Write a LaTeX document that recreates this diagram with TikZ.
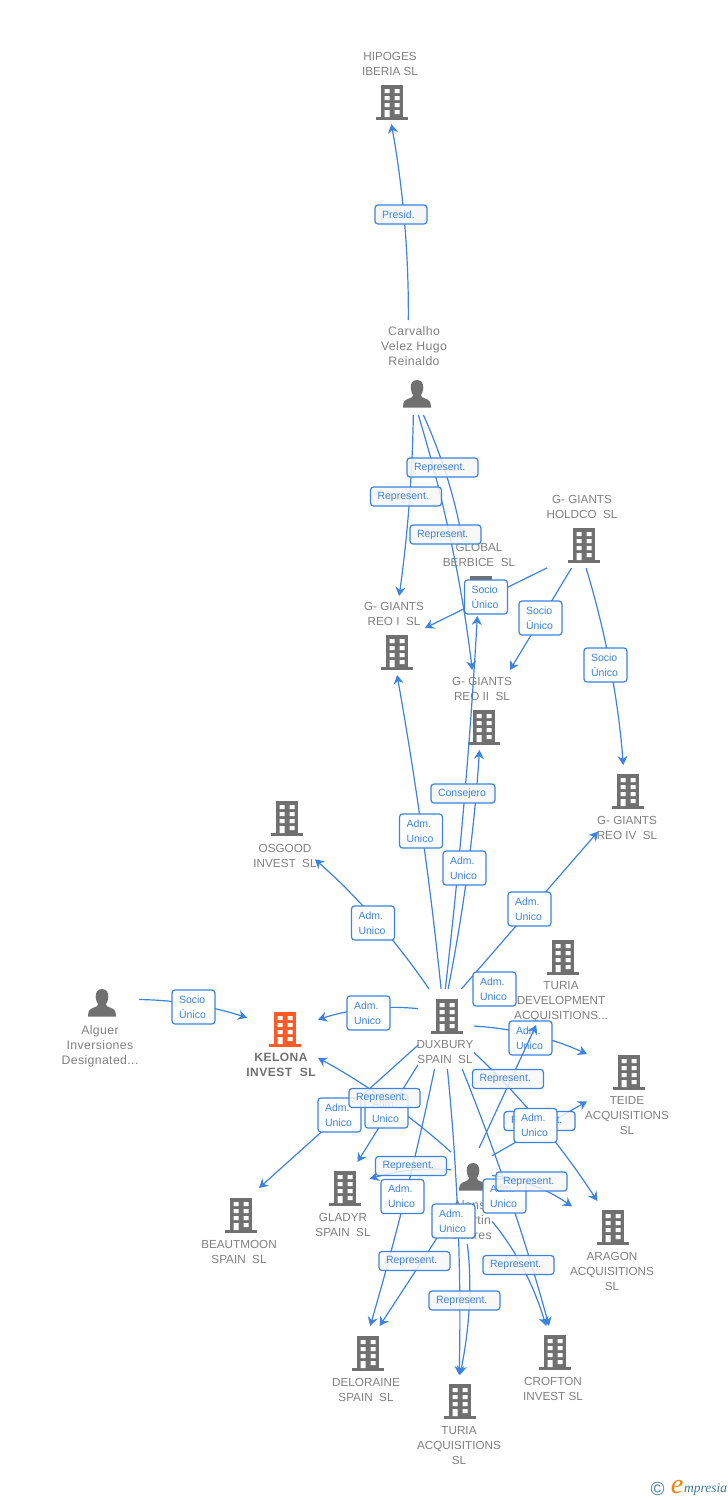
\documentclass[tikz,border=0pt]{standalone}
\usepackage{fontspec}
\setmainfont{Liberation Sans}
\newfontfamily\wmfont{Liberation Serif}
\usetikzlibrary{arrows.meta,calc}
\definecolor{linkblue}{HTML}{3C82E0}
\definecolor{icongray}{HTML}{707070}
\definecolor{namegray}{HTML}{808080}
\definecolor{kelonaorange}{HTML}{FF5A26}
\definecolor{wmblue}{HTML}{3F7C96}
\newcommand{\arcLink}[3]{\draw[tip] (#1) .. controls ($(#2)+0.1667*(#1)-0.1667*(#3)$) and ($(#2)-0.1667*(#1)+0.1667*(#3)$) .. (#3);}
\tikzset{
  x=1pt,y=-1pt,
  hit/.style={rectangle,inner sep=0pt,outer sep=0pt,minimum width=#1},
  name label/.style={inner sep=0pt,align=center,text=namegray,font=\fontsize{11.7}{15}\selectfont},
  person label/.style={inner sep=0pt,align=center,text=namegray,font=\fontsize{12.3}{15}\selectfont\addfontfeatures{LetterSpace=3}},
  main label/.style={inner sep=0pt,align=center,text=icongray,font=\fontsize{12}{15}\selectfont\bfseries\addfontfeatures{LetterSpace=4}},
  conn/.style={draw=linkblue,line width=1.2pt},
  tip/.style={conn,-{Stealth[length=9pt,width=10pt,inset=3pt]}},
  lbox/.style={rectangle,rounded corners=3pt,draw=linkblue,line width=1.2pt,fill=white,text=linkblue,
    align=left,inner xsep=7pt,inner ysep=2pt,font=\fontsize{10.5}{15}\selectfont},
  duo/.style={lbox,text width=29pt,minimum height=34pt},
  rep/.style={lbox,fill=black!3!white,fill opacity=.85,text opacity=1,text width=57pt,minimum height=19pt},
  oneline/.style={lbox,fill=black!3!white,minimum height=19pt},
  building/.pic={
    \fill[pic actions] (-11,-17) rectangle (11,15);
    \fill[pic actions] (-16,15) rectangle (16,18);
    \fill[white] (-7.3,-13) rectangle (-2.3,-9) (2.7,-13) rectangle (7.7,-9)
      (-7.3,-6) rectangle (-2.3,-2) (2.7,-6) rectangle (7.7,-2)
      (-7.3,1) rectangle (-2.3,5) (2.7,1) rectangle (7.7,5)
      (-7.3,8) rectangle (-2.3,15) (2.7,8) rectangle (7.7,12);
  },
  person/.pic={
    \fill[pic actions] (0,-14) .. controls (-5,-14) and (-6.5,-10) .. (-6.3,-6)
      .. controls (-6.2,-3) and (-5,-0.5) .. (-4,1) .. controls (-4,3) and (-5,3.5) .. (-8,4.5)
      .. controls (-12,6) and (-14,7) .. (-14,13.5) -- (14,13.5)
      .. controls (14,7) and (12,6) .. (8,4.5) .. controls (5,3.5) and (4,3) .. (4,1)
      .. controls (5,-0.5) and (6.2,-3) .. (6.3,-6) .. controls (6.5,-10) and (5,-14) .. (0,-14) -- cycle;
  },
}
\begin{document}
\begin{tikzpicture}
\useasboundingbox (0,0) rectangle (728,1500);
% entity areas (icon plus name): connectors end on their borders
\node[hit=60pt,minimum height=72pt] (hipoges) at (392,88) {};
\node[hit=70pt,minimum height=95pt] (carvalho) at (415,367.5) {};
\node[hit=60pt,minimum height=79pt] (reoa) at (395,635.5) {};
\node[hit=56pt,minimum height=80pt] (reob) at (483,710) {};
\node[hit=70pt,minimum height=76pt] (berbice) at (480,578) {};
\node[hit=70pt,minimum height=78pt] (holdco) at (582,529) {};
\node[hit=59pt,minimum height=80pt] (reod) at (627.5,805) {};
\node[hit=60pt,minimum height=70pt] (osgood) at (285,835) {};
\node[hit=94pt,minimum height=86pt] (turiadev) at (562,982) {};
\node[hit=83pt,minimum height=86pt] (teide) at (628.5,1097) {};
\node[hit=83pt,minimum height=94pt] (aragon) at (613.5,1248) {};
\node[hit=65pt,minimum height=79pt] (crofton) at (552.5,1365.5) {};
\node[hit=84pt,minimum height=95pt] (turiaacq) at (460,1422.5) {};
\node[hit=68pt,minimum height=79pt] (deloraine) at (366,1365.5) {};
\node[hit=55pt,minimum height=78pt] (gladyr) at (342.5,1201) {};
\node[hit=71pt,minimum height=80pt] (beautmoon) at (239.5,1228) {};
\node[hit=71pt,minimum height=77pt] (kelona) at (282.5,1043.5) {};
\node[hit=77pt,minimum height=85pt] (alguer) at (100.5,1027.5) {};
\node[hit=56pt,minimum height=80pt] (duxbury) at (446,1029) {};
\node[hit=41pt,minimum height=96pt] (alonso) at (471.5,1196) {};
% icons
\pic[fill=icongray] at (392,102) {building};
\pic[fill=icongray] at (584,545) {building};
\pic[fill=icongray] at (481,593) {building};
\pic[fill=icongray] at (397,652) {building};
\pic[fill=icongray] at (484,727) {building};
\pic[fill=icongray] at (287,818) {building};
\pic[fill=icongray] at (628,791) {building};
\pic[fill=icongray] at (563,957) {building};
\pic[fill=icongray] at (447,1016) {building};
\pic[fill=icongray] at (629,1072) {building};
\pic[fill=icongray] at (613,1227) {building};
\pic[fill=icongray] at (555,1352) {building};
\pic[fill=icongray] at (460,1401) {building};
\pic[fill=icongray] at (368,1353) {building};
\pic[fill=icongray] at (345,1188) {building};
\pic[fill=icongray] at (241,1215) {building};
\pic[fill=kelonaorange] at (285,1029) {building};
\pic[fill=icongray] at (417,394) {person};
\pic[fill=icongray] at (102,1003) {person};
\pic[fill=icongray] at (473,1177) {person};
% names
\node[name label] (hipogesN) at (390,63.5) {HIPOGES\\IBERIA SL};
\node[person label] (carvalhoN) at (414,346) {Carvalho\\Velez Hugo\\Reinaldo};
\node[name label] (holdcoN) at (582,506.5) {G- GIANTS\\HOLDCO\ \ SL};
\node[name label] (berbiceN) at (479,555) {GLOBAL\\BERBICE\ \ SL};
\node[name label] (reoaN) at (394,613.5) {G- GIANTS\\REO I\ \ SL};
\node[name label] (reobN) at (482,689) {G- GIANTS\\REO II\ \ SL};
\node[name label] (osgoodN) at (285,855.5) {OSGOOD\\INVEST\ \ SL};
\node[name label] (reodN) at (627,827.5) {G- GIANTS\\REO IV\ \ SL};
\node[name label] (turiadevN) at (561,1002) {TURIA\\DEVELOPMENT\\ACQUISITIONS...};
\node[person label] (alguerN) at (100,1046) {Alguer\\Inversiones\\Designated...};
\node[main label] (kelonaN) at (281,1064.5) {KELONA\\INVEST\ \ SL};
\node[name label] (duxburyN) at (445,1052.5) {DUXBURY\\SPAIN\ \ SL};
\node[name label] (teideN) at (627,1116) {TEIDE\\ACQUISITIONS\\SL};
\node[name label] (aragonN) at (612,1271) {ARAGON\\ACQUISITIONS\\SL};
\node[name label] (gladyrN) at (343,1224.5) {GLADYR\\SPAIN\ \ SL};
\node[name label] (beautmoonN) at (239,1251.5) {BEAUTMOON\\SPAIN\ \ SL};
\node[person label] (alonsoN) at (473,1220.5) {Alonso\\Martin\\Antres};
\node[name label] (deloraineN) at (366,1389.5) {DELORAINE\\SPAIN\ \ SL};
\node[name label] (croftonN) at (553,1388.5) {CROFTON\\INVEST SL};
\node[name label] (turiaacqN) at (459,1446) {TURIA\\ACQUISITIONS\\SL};
% connectors
\arcLink{carvalho.98.4}{406,222}{hipoges.-91.6}
\arcLink{carvalho.-92.4}{410,505}{reoa.84.2}
\arcLink{carvalho.-86.4}{453,542}{reob.105.4}
\arcLink{carvalho.-80.5}{448,476}{berbice.115.3}
\draw[tip] (holdco.-132.6) -- (reoa.14);
\draw[tip] (holdco.-105.8) -- (reob.56);
\arcLink{holdco.-84.1}{612,666}{reod.96.4}
\arcLink{alguer.36.5}{193,1003}{kelona.144.3}
\arcLink{duxbury.113}{377,919}{osgood.-39.8}
\arcLink{duxbury.97.1}{423,832}{reoa.-87.1}
\arcLink{duxbury.91.4}{465,802}{berbice.-94.5}
\arcLink{duxbury.87.1}{469,870}{reob.-95.7}
\draw[tip] (duxbury.69.4) -- (reod.-138.6);
\draw[tip] (duxbury.42.9) -- (turiadev.175);
\arcLink{duxbury.6.1}{532,1033}{teide.134}
\arcLink{duxbury.-40.6}{540,1120}{aragon.109.3}
\arcLink{duxbury.-68.2}{511,1197}{crofton.95}
\arcLink{duxbury.-88.6}{459.5,1222}{turiaacq.91.2}
\arcLink{duxbury.-106.7}{406,1197}{deloraine.84.2}
\draw[tip] (duxbury.-128.7) -- (gladyr.69.3);
\draw[tip] (duxbury.-150.3) -- (beautmoon.64);
\arcLink{duxbury.144.5}{368,1007}{kelona.34.6}
\arcLink{alonso.115.5}{387,1099}{kelona.-22.2}
\arcLink{alonso.128.3}{411,1169}{gladyr.39.9}
\draw[tip] (alonso.63.4) -- (teide.-174.5);
\arcLink{alonso.45.7}{534,1184}{aragon.135.4}
\arcLink{alonso.-51.7}{524,1266}{crofton.99.3}
\arcLink{alonso.-95.4}{471,1305}{turiaacq.90}
\draw[tip] (alonso.-135.7) -- (deloraine.71.8);
% connector labels
\node[oneline,text width=38pt] (lPresid) at (401,214.5) {Presid.};
\node[rep] (lRepA) at (442.5,467.5) {Represent.};
\node[rep] (lRepB) at (406,496.5) {Represent.};
\node[rep] (lRepC) at (445.5,534.5) {Represent.};
\node[duo] (lSocioA) at (486,597) {Socio\\Único};
\node[duo] (lSocioB) at (540.5,618) {Socio\\Único};
\node[duo] (lSocioC) at (605.5,665) {Socio\\Único};
\node[oneline,text width=50pt] (lConsejero) at (463,793.5) {Consejero};
\node[duo] (lAdmA) at (421,831) {Adm.\\Unico};
\node[duo] (lAdmB) at (464.5,868) {Adm.\\Unico};
\node[duo] (lAdmC) at (373,923) {Adm.\\Unico};
\node[duo] (lAdmD) at (529.5,909) {Adm.\\Unico};
\node[duo] (lAdmE) at (494.5,989) {Adm.\\Unico};
\node[duo] (lSocioD) at (193.5,1007) {Socio\\Único};
\node[duo] (lAdmF) at (368.5,1013) {Adm.\\Unico};
\node[duo] (lAdmG) at (530.5,1038) {Adm.\\Unico};
\draw[tip] (alonso.81.1) -- (turiadev.-121.2);
\node[duo] (lAdmH) at (339.5,1115) {Adm.\\Unico};
\node[duo] (lAdmI) at (386.5,1111) {Adm.\\Unico};
\node[rep] (lRepD) at (384.5,1098) {Represent.};
\node[rep] (lRepE) at (508,1079) {Represent.};
\node[rep] (lRepF) at (539.5,1121) {Represent.};
\node[duo] (lAdmJ) at (535.5,1125.5) {Adm.\\Unico};
\node[rep] (lRepG) at (411,1166) {Represent.};
\node[duo] (lAdmK) at (402.5,1196.5) {Adm.\\Unico};
\node[duo] (lAdmL) at (504.5,1196) {Adm.\\Unico};
\node[rep] (lRepH) at (531.5,1181.5) {Represent.};
\node[duo] (lAdmM) at (453.5,1221) {Adm.\\Unico};
\node[rep] (lRepI) at (414.5,1261) {Represent.};
\node[rep] (lRepJ) at (518.5,1265) {Represent.};
\node[rep] (lRepK) at (464.5,1300.5) {Represent.};
% watermark
\node[inner sep=0pt,text=wmblue,font=\fontsize{19}{19}\selectfont] (wmC) at (657.5,1489) {©};
\node[inner sep=0pt,text=orange,font=\wmfont\itshape\fontsize{28}{28}\selectfont] (wmE) at (677,1487) {e};
\node[inner sep=0pt,anchor=west,text=wmblue,font=\wmfont\itshape\fontsize{13.5}{13.5}\selectfont] (wmT) at (684,1489) {mpresia};
\end{tikzpicture}
\end{document}
